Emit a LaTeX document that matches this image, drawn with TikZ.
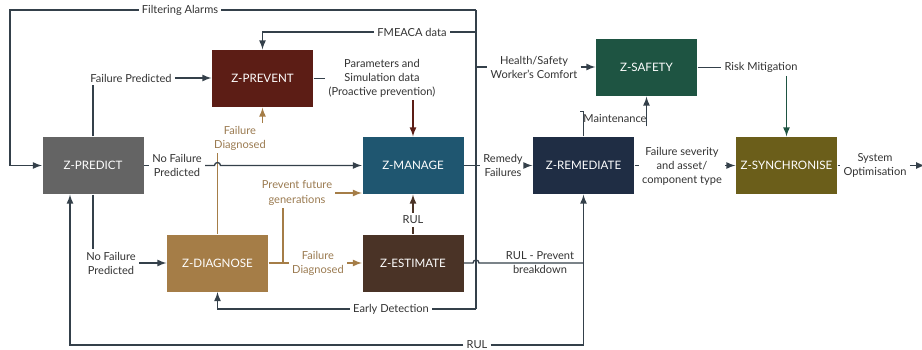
\documentclass[tikz,border=0pt]{standalone}
\usepackage{fontspec}
\setmainfont{Lato}
\usetikzlibrary{calc,positioning}

\definecolor{cPrevent}{HTML}{5C1D15}
\definecolor{cPredict}{HTML}{646464}
\definecolor{cManage}{HTML}{1F5670}
\definecolor{cDiag}{HTML}{A57D47}
\definecolor{cEstimate}{HTML}{4A3326}
\definecolor{cSafety}{HTML}{1E5442}
\definecolor{cRemed}{HTML}{1F2D44}
\definecolor{cSync}{HTML}{6B5E1A}
\definecolor{cLine}{HTML}{34404A}
\definecolor{cText}{HTML}{333333}
\definecolor{cTanText}{HTML}{9A7A50}

\begin{document}
\begin{tikzpicture}[>=latex, line width=0.75pt,
    box/.style={minimum width=2.02cm, minimum height=1.14cm, inner sep=0pt,
                text=white, font=\fontsize{6.6}{8}\selectfont},
    lbl/.style={font=\fontsize{6.3}{8}\selectfont, text=cText, align=center, inner sep=1.5pt},
    tanlbl/.style={lbl, text=cTanText},
    flow/.style={draw=cLine},
    tanline/.style={draw=cDiag},
    redline/.style={draw=cPrevent},
    brownline/.style={draw=cEstimate},
    greenline/.style={draw=cSafety}]
    \useasboundingbox (0,0) rectangle (18.44,6.98);

    % blocks
    \node[box, fill=cPrevent]  (prevent)   at (5.25,5.41)  {Z-PREVENT};
    \node[box, fill=cPredict]  (predict)   at (1.86,3.67)  {Z-PREDICT};
    \node[box, fill=cManage]   (manage)    at (8.26,3.67)  {Z-MANAGE};
    \node[box, fill=cDiag]     (diagnose)  at (4.35,1.72)  {Z-DIAGNOSE};
    \node[box, fill=cEstimate] (estimate)  at (8.26,1.72)  {Z-ESTIMATE};
    \node[box, fill=cSafety]   (safety)    at (12.93,5.63) {Z-SAFETY};
    \node[box, fill=cRemed]    (remediate) at (11.67,3.67) {Z-REMEDIATE};
    \node[box, fill=cSync]     (sync)      at (15.73,3.67) {Z-SYNCHRONISE};

    % labels
    \node[lbl] (alarms)  at (3.60,6.78) {Filtering Alarms};
    \node[lbl] (fmeaca)  at (8.24,6.34) {FMEACA data};
    \node[lbl] (fpred)   at (2.62,5.42) {Failure Predicted};
    \node[lbl] (param)   at (7.64,5.42) {Parameters and\\Simulation data\\(Proactive prevention)};
    \node[tanlbl] (fdiag)  at (4.80,4.22) {Failure\\Diagnosed};
    \node[lbl] (nofail)  at (3.54,3.67) {No Failure\\Predicted};
    \node[tanlbl] (future) at (5.94,3.12) {Prevent future\\generations};
    \node[lbl] (rulmid)  at (8.26,2.58) {RUL};
    \node[lbl] (nofailb) at (2.22,1.72) {No Failure\\Predicted};
    \node[tanlbl] (fdiagb) at (6.36,1.72) {Failure\\Diagnosed};
    \node[lbl] (early)   at (7.82,0.80) {Early Detection};
    \node[lbl] (rulbot)  at (9.54,0.08) {RUL};
    \node[lbl] (remedy)  at (10.06,3.67) {Remedy\\Failures};
    \node[lbl] (health)  at (10.68,5.64) {Health/Safety\\Worker's Comfort};
    \node[lbl] (maint)   at (12.30,4.60) {Maintenance};
    \node[lbl] (risk)    at (15.22,5.63) {Risk Mitigation};
    \node[lbl] (sever)   at (13.64,3.66) {Failure severity\\and asset/\\component type};
    \node[lbl] (sysopt)  at (17.50,3.67) {System\\Optimisation};
    \node[lbl] (rulprev) at (10.80,1.72) {RUL - Prevent\\breakdown};

    \coordinate (bustop) at (9.52,6.78);
    \coordinate (busbot) at (9.52,0.80);
    \coordinate (tee)    at (5.66,1.72);
    \coordinate (outend) at (18.50,3.67);

    % bus out of Z-MANAGE
    \draw[flow] (bustop) -- (busbot);
    \draw[flow] (manage.east) -- (remedy.west);
    \draw[flow,->] (remedy.east) -- (remediate.west);
    \draw[flow] (bustop) -- (alarms.east);
    \draw[flow,->] (alarms.west) -| (0.2,3.67) -- (predict.west);
    \draw[flow] (9.52,6.34) -- (fmeaca.east);
    \draw[flow,->] (fmeaca.west) -| (prevent.north);
    \draw[flow] (9.52,5.64) -- (health.west);
    \draw[flow,->] (health.east) -- (health.east -| safety.west);
    \draw[flow] (busbot) -- (early.east);
    \draw[flow,->] (early.west) -| (diagnose.south);

    % Z-PREDICT
    \draw[flow] (predict.north) -- (predict.north |- fpred.south);
    \draw[flow,->] (fpred.east) -- (fpred.east -| prevent.west);
    \draw[flow] (predict.south) -- (predict.south |- nofailb.north);
    \draw[flow,->] (nofailb.east) -- (diagnose.west);

    % Z-PREVENT
    \draw[flow] (prevent.east) -- (prevent.east -| param.west);
    \draw[redline,->] (manage.north |- param.south) -- (manage.north);

    % Z-DIAGNOSE
    \draw[tanline] (diagnose.north) -- (diagnose.north |- fdiag.south);
    \draw[tanline,->] (prevent.south |- fdiag.north) -- (prevent.south);
    \draw[tanline] (diagnose.east) -- (fdiagb.west);
    \draw[tanline,->] (fdiagb.east) -- (estimate.west);
    \draw[tanline] (tee) -- (tee |- future.south);
    \draw[tanline,->] (future.east) -- (future.east -| manage.west);

    \draw[flow] (predict.east) -- (nofail.west);
    \draw[flow,->] (nofail.east) -- (4.29,3.67) arc[start angle=180, end angle=0, radius=0.06] -- (manage.west);

    % Z-ESTIMATE
    \draw[brownline] (estimate.north) -- (rulmid.south);
    \draw[brownline,->] (rulmid.north) -- (manage.south);
    \draw[flow] (estimate.east) -- (9.46,1.72) arc[start angle=180, end angle=0, radius=0.06]
        -- (remediate.south |- estimate.east);
    \draw[flow,->] (rulbot.east) -| (remediate.south);
    \draw[flow,->] (rulbot.west) -| ([xshift=-0.46cm]predict.south);

    % Z-REMEDIATE, Z-SAFETY, Z-SYNCHRONISE
    \draw[flow] (remediate.north) |- (maint.north west);
    \draw[flow,->] (safety.south |- maint.south) -- (safety.south);
    \draw[flow] (safety.east) -- (risk.west);
    \draw[greenline,->] (sync.north |- risk.south) -- (sync.north);
    \draw[flow] (remediate.east) -- (remediate.east -| sever.west);
    \draw[flow,->] (sever.east |- sync.west) -- (sync.west);
    \draw[flow] (sync.east) -- (sysopt.west);
    \draw[flow,->] (sysopt.east) -- (outend);
\end{tikzpicture}
\end{document}
